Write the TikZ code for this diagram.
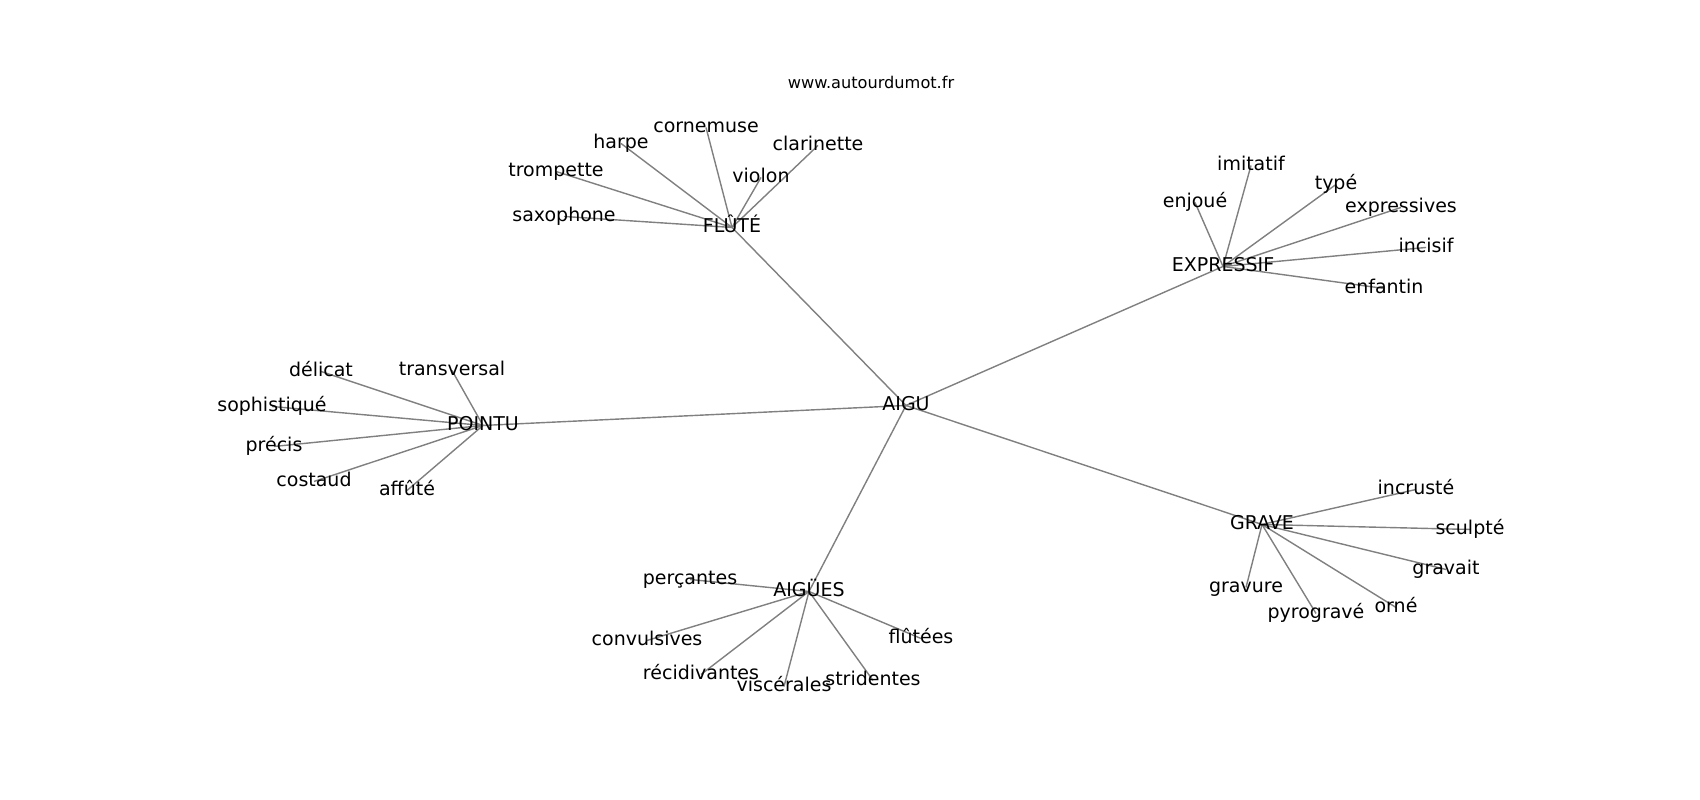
\documentclass[tikz,border=0pt]{standalone}
\usepackage{fontspec}
\setmainfont{DejaVu Sans}
\usetikzlibrary{backgrounds}

\begin{document}
\begin{tikzpicture}[x=0.01cm, y=-0.01cm,
	word/.style={font=\fontsize{5.4}{6}\selectfont, inner sep=0pt, text height=3.9pt, text depth=1.25pt, yshift=-0.7pt},
	site/.style={font=\fontsize{4.6}{5}\selectfont, inner sep=0pt},
	every edge/.style={draw=gray, line width=0.4pt}]
	\useasboundingbox (0,0) rectangle (1700,800);
	\node[site] (url) at (871,82) {www.autourdumot.fr};
	
	\node[word] (aigu)   at (906,403) {AIGU};
	\node[word] (flute)  at (732,225) {FLÛTÉ};
	\node[word] (expr)   at (1223,264) {EXPRESSIF};
	\node[word] (pointu) at (483,423) {POINTU};
	\node[word] (aigues) at (809,589) {AIGÜES};
	\node[word] (grave)  at (1262,522) {GRAVE};
	
	% FLÛTÉ
	\node[word] (cornemuse)  at (706,125) {cornemuse};
	\node[word] (harpe)      at (621,141) {harpe};
	\node[word] (clarinette) at (818,143) {clarinette};
	\node[word] (trompette)  at (556,169) {trompette};
	\node[word] (violon)     at (761,175) {violon};
	\node[word] (saxophone)  at (564,214) {saxophone};
	
	% EXPRESSIF
	\node[word] (imitatif)    at (1251,163) {imitatif};
	\node[word] (enjoue)      at (1195,200) {enjoué};
	\node[word] (type)        at (1336,182) {typé};
	\node[word] (expressives) at (1401,205) {expressives};
	\node[word] (incisif)     at (1426,245) {incisif};
	\node[word] (enfantin)    at (1384,286) {enfantin};
	
	% POINTU
	\node[word] (delicat)     at (321,369) {délicat};
	\node[word] (transversal) at (452,368) {transversal};
	\node[word] (sophistique) at (272,404) {sophistiqué};
	\node[word] (precis)      at (274,444) {précis};
	\node[word] (costaud)     at (314,479) {costaud};
	\node[word] (affute)      at (407,488) {affûté};
	
	% AIGÜES
	\node[word] (percantes)    at (690,577) {perçantes};
	\node[word] (convulsives)  at (647,638) {convulsives};
	\node[word] (recidivantes) at (701,672) {récidivantes};
	\node[word] (viscerales)   at (784,684) {viscérales};
	\node[word] (stridentes)   at (873,678) {stridentes};
	\node[word] (flutees)      at (921,636) {flûtées};
	
	% GRAVE
	\node[word] (incruste)  at (1416,487) {incrusté};
	\node[word] (sculpte)   at (1470,527) {sculpté};
	\node[word] (gravait)   at (1446,567) {gravait};
	\node[word] (gravure)   at (1246,585) {gravure};
	\node[word] (pyrograve) at (1316,611) {pyrogravé};
	\node[word] (orne)      at (1396,605) {orné};
	
	\begin{scope}[on background layer]
	\path (aigu.center) edge (flute.center)
	(aigu.center) edge (expr.center)
	(aigu.center) edge (pointu.center)
	(aigu.center) edge (aigues.center)
	(aigu.center) edge (grave.center)
	
	(flute.center) edge (cornemuse.center)
	(flute.center) edge (harpe.center)
	(flute.center) edge (clarinette.center)
	(flute.center) edge (trompette.center)
	(flute.center) edge (violon.center)
	(flute.center) edge (saxophone.center)
	
	(expr.center) edge (imitatif.center)
	(expr.center) edge (enjoue.center)
	(expr.center) edge (type.center)
	(expr.center) edge (expressives.center)
	(expr.center) edge (incisif.center)
	(expr.center) edge (enfantin.center)
	
	(pointu.center) edge (delicat.center)
	(pointu.center) edge (transversal.center)
	(pointu.center) edge (sophistique.center)
	(pointu.center) edge (precis.center)
	(pointu.center) edge (costaud.center)
	(pointu.center) edge (affute.center)
	
	(aigues.center) edge (percantes.center)
	(aigues.center) edge (convulsives.center)
	(aigues.center) edge (recidivantes.center)
	(aigues.center) edge (viscerales.center)
	(aigues.center) edge (stridentes.center)
	(aigues.center) edge (flutees.center)
	
	(grave.center) edge (incruste.center)
	(grave.center) edge (sculpte.center)
	(grave.center) edge (gravait.center)
	(grave.center) edge (gravure.center)
	(grave.center) edge (pyrograve.center)
	(grave.center) edge (orne.center);
	\end{scope}
\end{tikzpicture}
\end{document}
